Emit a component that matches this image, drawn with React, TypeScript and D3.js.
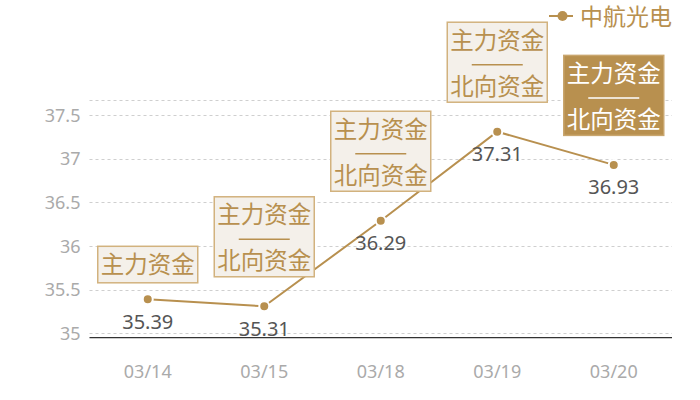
import React from 'react';
import * as d3 from 'd3';

const W = 700;
const H = 400;

// data
const dates = ['03/14', '03/15', '03/18', '03/19', '03/20'];
const prices = [35.39, 35.31, 36.29, 37.31, 36.93];
const flowTags = [
  ['主力资金'],
  ['主力资金', '北向资金'],
  ['主力资金', '北向资金'],
  ['主力资金', '北向资金'],
  ['主力资金', '北向资金'],
];
const highlighted = [false, false, false, false, true];
const yTicks = [35, 35.5, 36, 36.5, 37, 37.5];
const seriesName = '中航光电';

const GOLD = '#b8904f';
const FONT = '"Noto Sans", "Noto Sans CJK SC", sans-serif';
const CJK = '"Noto Sans CJK SC", "Noto Sans", sans-serif';

export default function App() {
  const left = 89.5;
  const right = 672;
  const top = 100.3;
  const bottom = 337.7;

  const x = d3.scalePoint<string>().domain(dates).range([left, right]).padding(0.5);
  const y = d3.scaleLinear().domain([34.95, 37.67]).range([bottom, top]);

  const line = d3
    .line<number>()
    .x((_, i) => x(dates[i])!)
    .y((d) => y(d));

  const gridValues = [...yTicks, 37.67];

  return (
    <svg
      width={W}
      height={H}
      style={{ position: 'fixed', left: 0, top: 0, background: '#fff' }}
    >
      {/* grid */}
      <g>
        {gridValues.map((v) => (
          <line
            key={v}
            x1={left}
            x2={right}
            y1={Math.round(y(v)) + 0.5}
            y2={Math.round(y(v)) + 0.5}
            stroke="#cfcfcf"
            strokeDasharray="3,3"
          />
        ))}
      </g>
      {/* y labels */}
      <g fontFamily={FONT} fontSize={18} fill="#aaa" textAnchor="end">
        {yTicks.map((v) => (
          <text key={v} x={80.5} y={y(v) + 6.5}>
            {v}
          </text>
        ))}
      </g>
      {/* x axis */}
      <line x1={left} x2={right} y1={bottom} y2={bottom} stroke="#333" strokeWidth={1.2} />
      <g fontFamily={FONT} fontSize={18} fill="#aaa" textAnchor="middle">
        {dates.map((d) => (
          <text key={d} x={x(d)} y={378}>
            {d}
          </text>
        ))}
      </g>

      {/* series */}
      <path d={line(prices)!} fill="none" stroke={GOLD} strokeWidth={2} />
      {prices.map((v, i) => (
        <circle
          key={i}
          cx={x(dates[i])}
          cy={y(v)}
          r={5}
          fill={GOLD}
          stroke="#fff"
          strokeWidth={2}
        />
      ))}
      <g fontFamily={FONT} fontSize={20} fill="#555" textAnchor="middle">
        {prices.map((v, i) => (
          <text key={i} x={x(dates[i])} y={y(v) + 29.4}>
            {v.toFixed(2)}
          </text>
        ))}
      </g>

      {/* annotation boxes */}
      {flowTags.map((tags, i) => {
        const cx = x(dates[i])!;
        const cy = y(prices[i]);
        const two = tags.length > 1;
        const bw = 100;
        const bh = two ? 80 : 36.5;
        const gap = two ? 29.5 : 16.5;
        const bx = cx - bw / 2;
        const by = cy - gap - bh;
        const hi = highlighted[i];
        const txt = hi ? '#fff' : GOLD;
        return (
          <g key={i} fontFamily={CJK} fontSize={23.5} textAnchor="middle" fill={txt}>
            <rect
              x={bx}
              y={by}
              width={bw}
              height={bh}
              fill={hi ? GOLD : '#f4f0ea'}
              stroke={hi ? '#c9a66e' : '#d2b27e'}
              strokeWidth={1.5}
            />
            {two ? (
              <>
                <text x={cx} y={by + 26.5}>
                  {tags[0]}
                </text>
                <line
                  x1={cx - 25.5}
                  x2={cx + 25.5}
                  y1={by + 42.5}
                  y2={by + 42.5}
                  stroke={txt}
                  strokeWidth={1.5}
                />
                <text x={cx} y={by + 72.5}>
                  {tags[1]}
                </text>
              </>
            ) : (
              <text x={cx} y={by + 27}>
                {tags[0]}
              </text>
            )}
          </g>
        );
      })}

      {/* legend */}
      <g>
        <line x1={549} x2={573} y1={16} y2={16} stroke={GOLD} strokeWidth={2} />
        <circle cx={562.5} cy={16} r={5} fill={GOLD} />
        <text x={580} y={24.5} fontFamily={CJK} fontSize={23} fill={GOLD}>
          {seriesName}
        </text>
      </g>
    </svg>
  );
}
